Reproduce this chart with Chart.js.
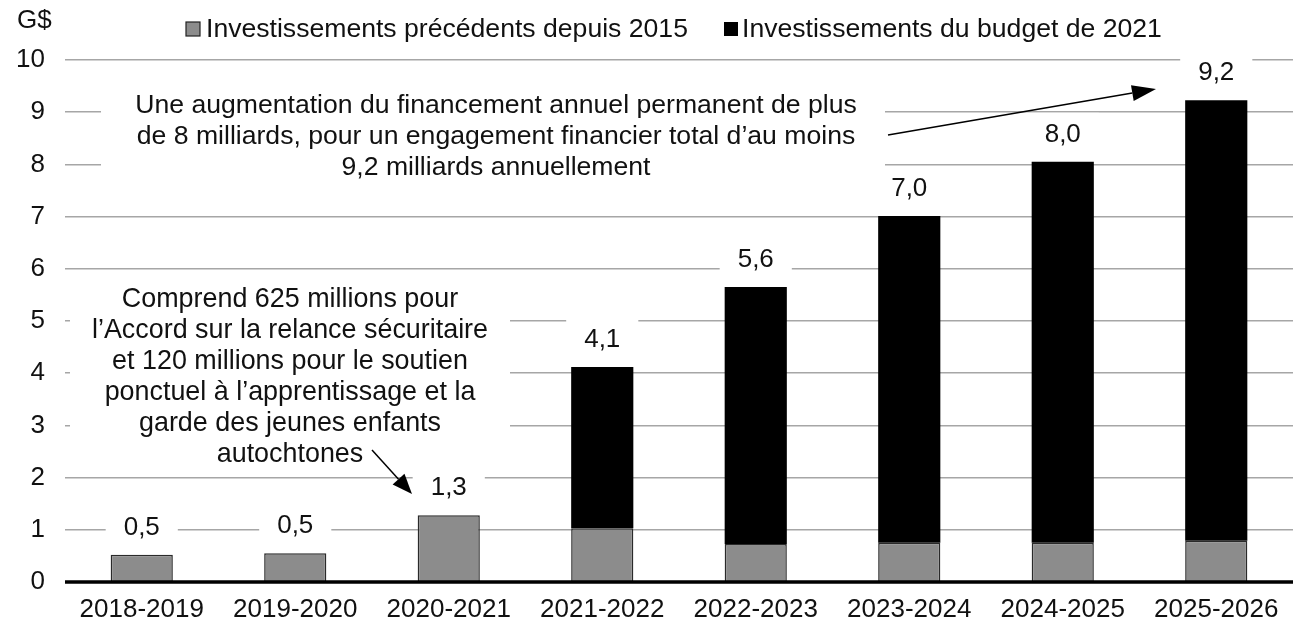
<!DOCTYPE html>
<html>
<head>
<meta charset="utf-8">
<script src="https://cdn.jsdelivr.net/npm/chart.js@4/dist/chart.umd.min.js"></script>
<style>
  html, body { margin: 0; padding: 0; background: #fff; }
  #wrap { width: 1307px; height: 624px; }
</style>
</head>
<body>
<div id="wrap"><canvas id="c" width="1307" height="624"></canvas></div>
<script>
const categories = ['2018-2019','2019-2020','2020-2021','2021-2022','2022-2023','2023-2024','2024-2025','2025-2026'];
const previous = [0.52, 0.55, 1.28, 1.03, 0.73, 0.75, 0.75, 0.79];
const budget2021 = [null, null, null, 3.09, 4.92, 6.26, 7.30, 8.44];
const totalLabels = ['0,5','0,5','1,3','4,1','5,6','7,0','8,0','9,2'];
const seriesNames = ['Investissements précédents depuis 2015', 'Investissements du budget de 2021'];
const yUnit = 'G$';
const noteLeft = ['Comprend 625 millions pour', 'l\u2019Accord sur la relance sécuritaire', 'et 120 millions pour le soutien', 'ponctuel à l\u2019apprentissage et la', 'garde des jeunes enfants', 'autochtones'];
const noteTop = ['Une augmentation du financement annuel permanent de plus', 'de 8 milliards, pour un engagement financier total d\u2019au moins', '9,2 milliards annuellement'];

const FONT = '"Liberation Sans", Arial, sans-serif';
const TXT = '#111111';
const GRAY = '#8c8c8c';

function arrow(ctx, x1, y1, x2, y2, headLen, headW) {
  const a = Math.atan2(y2 - y1, x2 - x1);
  const bx = x2 - headLen * Math.cos(a), by = y2 - headLen * Math.sin(a);
  ctx.save();
  ctx.strokeStyle = '#000'; ctx.fillStyle = '#000'; ctx.lineWidth = 1.5;
  ctx.beginPath(); ctx.moveTo(x1, y1); ctx.lineTo(bx, by); ctx.stroke();
  ctx.beginPath();
  ctx.moveTo(x2, y2);
  ctx.lineTo(bx + headW / 2 * Math.sin(a), by - headW / 2 * Math.cos(a));
  ctx.lineTo(bx - headW / 2 * Math.sin(a), by + headW / 2 * Math.cos(a));
  ctx.closePath(); ctx.fill();
  ctx.restore();
}

const decor = {
  id: 'decor',
  beforeDatasetsDraw(chart) {
    const ctx = chart.ctx;
    const ys = chart.scales.y, xs = chart.scales.x;
    ctx.save();
    ctx.textAlign = 'center';
    ctx.textBaseline = 'middle';
    // annotation boxes
    ctx.fillStyle = '#fff';
    ctx.fillRect(70, 283, 440, 187);
    ctx.fillRect(101, 85, 784, 100);
    ctx.fillStyle = TXT;
    ctx.font = '26.9px ' + FONT;
    noteLeft.forEach((t, i) => ctx.fillText(t, 290, 300 + i * 31));
    ctx.font = '26.6px ' + FONT;
    noteTop.forEach((t, i) => ctx.fillText(t, 496, 106 + i * 31));
    // value labels
    ctx.font = '26px ' + FONT;
    categories.forEach((c, i) => {
      const tot = (previous[i] || 0) + (budget2021[i] || 0);
      const x = xs.getPixelForValue(i);
      const y = ys.getPixelForValue(tot) - 27;
      const w = ctx.measureText(totalLabels[i]).width + 36;
      ctx.fillStyle = '#fff';
      ctx.fillRect(x - w / 2, y - 22, w, 44);
      ctx.fillStyle = TXT;
      ctx.fillText(totalLabels[i], x, y);
    });
    ctx.restore();
  },
  afterDatasetsDraw(chart) {
    const ctx = chart.ctx;
    const a = chart.chartArea;
    ctx.save();
    // x axis line
    ctx.strokeStyle = '#000';
    ctx.lineWidth = 3.5;
    ctx.beginPath(); ctx.moveTo(a.left, a.bottom); ctx.lineTo(a.right, a.bottom); ctx.stroke();
    // arrows
    arrow(ctx, 372, 450, 412, 494, 20, 16);
    arrow(ctx, 888, 135, 1156, 89, 24, 16);
    // unit
    ctx.font = '26px ' + FONT;
    ctx.fillStyle = TXT;
    ctx.textAlign = 'left';
    ctx.textBaseline = 'middle';
    ctx.fillText(yUnit, 17, 21);
    // legend
    ctx.fillStyle = GRAY; ctx.fillRect(186, 22, 14, 14);
    ctx.strokeStyle = '#222'; ctx.lineWidth = 1.2; ctx.strokeRect(186, 22, 14, 14);
    ctx.fillStyle = '#000'; ctx.fillRect(724, 22, 14, 14);
    ctx.fillStyle = TXT;
    ctx.font = '26.6px ' + FONT;
    ctx.fillText(seriesNames[0], 206, 30);
    ctx.fillText(seriesNames[1], 742, 30);
    ctx.restore();
  }
};

new Chart(document.getElementById('c'), {
  type: 'bar',
  data: {
    labels: categories,
    datasets: [
      { label: seriesNames[0], data: previous, backgroundColor: GRAY, borderColor: '#2a2a2a', borderWidth: 1.5,
        categoryPercentage: 1, barPercentage: 0.405 },
      { label: seriesNames[1], data: budget2021, backgroundColor: '#000', borderWidth: 0,
        categoryPercentage: 1, barPercentage: 0.405 }
    ]
  },
  options: {
    responsive: false,
    animation: false,
    devicePixelRatio: 1,
    layout: { padding: { top: 60, right: 14, left: 0, bottom: 0 } },
    plugins: { legend: { display: false }, tooltip: { enabled: false } },
    scales: {
      x: {
        stacked: true,
        grid: { display: false },
        border: { display: false },
        ticks: { font: { size: 26, family: FONT }, color: TXT, padding: 4, maxRotation: 0 },
        afterFit(s) { s.height = 42; }
      },
      y: {
        stacked: true,
        min: 0, max: 10,
        grid: { color: '#a6a6a6', lineWidth: 1.5, drawTicks: false },
        border: { display: false },
        ticks: { stepSize: 1, font: { size: 26, family: FONT }, color: TXT, padding: 20 },
        afterFit(s) { s.width = 65; }
      }
    }
  },
  plugins: [decor]
});
</script>
</body>
</html>
